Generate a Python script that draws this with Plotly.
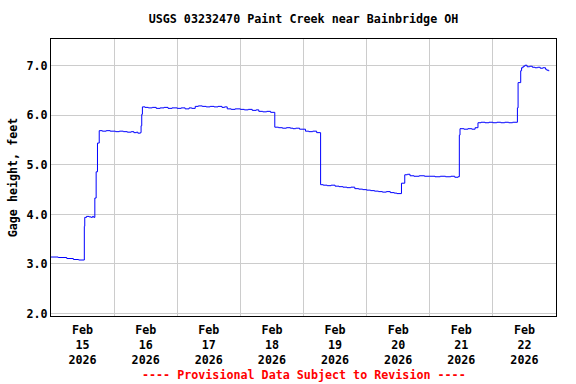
import plotly.graph_objects as go

# ---- data ----
times = [
    "2026-02-15 00:00", "2026-02-15 02:45", "2026-02-15 06:00", "2026-02-15 08:30", "2026-02-15 10:30",
    "2026-02-15 12:40", "2026-02-15 12:50", "2026-02-15 13:30", "2026-02-15 14:30", "2026-02-15 15:15",
    "2026-02-15 15:45", "2026-02-15 16:15", "2026-02-15 16:40", "2026-02-15 17:10", "2026-02-15 17:40",
    "2026-02-15 18:20", "2026-02-15 19:30", "2026-02-15 21:00", "2026-02-15 22:30",
    "2026-02-16 00:30", "2026-02-16 02:00", "2026-02-16 03:30", "2026-02-16 05:00", "2026-02-16 06:30",
    "2026-02-16 07:30", "2026-02-16 08:30", "2026-02-16 09:00", "2026-02-16 10:00", "2026-02-16 10:15",
    "2026-02-16 10:30", "2026-02-16 10:45", "2026-02-16 11:45", "2026-02-16 13:00", "2026-02-16 14:30",
    "2026-02-16 16:00", "2026-02-16 17:30", "2026-02-16 19:00", "2026-02-16 20:30", "2026-02-16 22:00",
    "2026-02-17 00:00", "2026-02-17 01:30", "2026-02-17 03:00", "2026-02-17 04:30", "2026-02-17 05:30",
    "2026-02-17 06:50", "2026-02-17 08:00", "2026-02-17 09:30", "2026-02-17 11:00", "2026-02-17 12:30",
    "2026-02-17 14:00", "2026-02-17 15:30", "2026-02-17 17:00", "2026-02-17 18:00", "2026-02-17 19:00",
    "2026-02-17 20:30", "2026-02-17 22:00",
    "2026-02-18 00:00", "2026-02-18 01:30", "2026-02-18 03:00", "2026-02-18 04:30", "2026-02-18 06:00",
    "2026-02-18 07:00", "2026-02-18 08:30", "2026-02-18 10:00", "2026-02-18 11:30", "2026-02-18 13:05",
    "2026-02-18 14:30", "2026-02-18 16:00", "2026-02-18 17:30", "2026-02-18 19:00", "2026-02-18 20:00",
    "2026-02-18 21:00", "2026-02-18 22:30",
    "2026-02-19 00:45", "2026-02-19 02:00", "2026-02-19 03:30", "2026-02-19 05:00", "2026-02-19 06:30",
    "2026-02-19 07:30", "2026-02-19 09:00", "2026-02-19 10:30", "2026-02-19 12:00", "2026-02-19 13:30",
    "2026-02-19 15:00", "2026-02-19 16:30", "2026-02-19 18:00", "2026-02-19 19:30", "2026-02-19 21:00",
    "2026-02-19 22:30",
    "2026-02-20 00:00", "2026-02-20 01:30", "2026-02-20 03:00", "2026-02-20 04:30", "2026-02-20 06:00",
    "2026-02-20 07:30", "2026-02-20 09:00", "2026-02-20 10:30", "2026-02-20 11:30", "2026-02-20 13:15",
    "2026-02-20 14:30", "2026-02-20 15:30", "2026-02-20 16:30", "2026-02-20 18:00", "2026-02-20 20:00",
    "2026-02-20 22:00",
    "2026-02-21 00:00", "2026-02-21 02:00", "2026-02-21 04:00", "2026-02-21 06:00", "2026-02-21 08:00",
    "2026-02-21 09:30", "2026-02-21 10:45", "2026-02-21 11:15", "2026-02-21 11:30", "2026-02-21 13:00",
    "2026-02-21 14:30", "2026-02-21 16:00", "2026-02-21 17:15", "2026-02-21 18:20", "2026-02-21 19:30",
    "2026-02-21 21:00", "2026-02-21 22:30",
    "2026-02-22 00:00", "2026-02-22 01:30", "2026-02-22 03:00", "2026-02-22 04:30", "2026-02-22 06:00",
    "2026-02-22 07:30", "2026-02-22 09:20", "2026-02-22 09:35", "2026-02-22 10:35", "2026-02-22 10:55",
    "2026-02-22 11:30", "2026-02-22 12:10", "2026-02-22 13:00", "2026-02-22 14:00", "2026-02-22 15:00",
    "2026-02-22 16:00", "2026-02-22 17:00", "2026-02-22 18:00", "2026-02-22 19:00", "2026-02-22 20:00",
    "2026-02-22 20:30", "2026-02-22 21:15",
]
gage_height = [
    3.14, 3.13, 3.11, 3.09, 3.08,
    3.76, 3.94, 3.96, 3.95, 3.94,
    3.96, 3.94, 4.33, 4.86, 5.44,
    5.69, 5.68, 5.69, 5.68,
    5.67, 5.68, 5.67, 5.66, 5.67,
    5.65, 5.66, 5.64, 5.65, 5.79,
    6.02, 6.17, 6.16, 6.15, 6.16,
    6.14, 6.15, 6.16, 6.14, 6.15,
    6.14, 6.15, 6.13, 6.15, 6.14,
    6.18, 6.19, 6.18, 6.17, 6.18,
    6.17, 6.18, 6.16, 6.17, 6.13,
    6.12, 6.13,
    6.12, 6.11, 6.12, 6.10, 6.11,
    6.08, 6.07, 6.08, 6.06, 5.76,
    5.75, 5.74, 5.75, 5.74, 5.73,
    5.74, 5.72,
    5.68, 5.67, 5.68, 5.65, 4.60,
    4.59, 4.58, 4.59, 4.57, 4.56,
    4.55, 4.54, 4.55, 4.52, 4.51,
    4.50,
    4.49, 4.48, 4.47, 4.46, 4.45,
    4.46, 4.44, 4.43, 4.42, 4.63,
    4.80, 4.81, 4.78, 4.77, 4.78,
    4.77,
    4.77, 4.76, 4.77, 4.76, 4.77,
    4.75, 4.76, 5.60, 5.73, 5.72,
    5.73, 5.72, 5.75, 5.85, 5.86,
    5.85, 5.86,
    5.85, 5.86, 5.85, 5.86, 5.85,
    5.86, 6.15, 6.66, 6.90, 6.96,
    6.99, 7.01, 6.98, 6.99, 6.97,
    6.96, 6.97, 6.95, 6.96, 6.93,
    6.91, 6.89,
]

day_noons = ["2026-02-%02d 12:00" % d for d in range(15, 23)]
day_labels = ["Feb<br>%d<br>2026" % d for d in range(15, 23)]
y_ticks = [2.0, 3.0, 4.0, 5.0, 6.0, 7.0]

title_text = "USGS 03232470 Paint Creek near Bainbridge OH"
y_title = "Gage height, feet"
footer_text = "---- Provisional Data Subject to Revision ----"

MONO = "DejaVu Sans Mono"
FS = 11.7

fig = go.Figure()
fig.add_trace(go.Scatter(
    x=times, y=gage_height, mode="lines",
    line=dict(color="#0000ff", width=1, shape="hv"),
    showlegend=False, hoverinfo="skip",
))

fig.update_layout(
    width=576, height=384,
    margin=dict(l=51, r=20, t=39, b=68, pad=0, autoexpand=False),
    paper_bgcolor="white", plot_bgcolor="white",
    font=dict(family=MONO, size=FS, color="black"),
    title=dict(text="<b>%s</b>" % title_text, x=0.5, xref="paper",
               y=1 - 19 / 384, yanchor="middle", xanchor="center",
               font=dict(family=MONO, size=FS, color="black")),
    xaxis=dict(
        type="date", automargin=False,
        range=["2026-02-15 00:00", "2026-02-23 00:00"],
        tickmode="array", tickvals=day_noons,
        ticktext=["<b>%s</b>" % t for t in day_labels],
        ticks="", showgrid=False, zeroline=False, ticklabelstandoff=3,
        showline=True, linecolor="black", linewidth=1, mirror=True,
        tickfont=dict(family=MONO, size=FS, color="black"),
        minor=dict(dtick=86400000, tick0="2026-02-15", showgrid=True,
                   gridcolor="#cccccc", gridwidth=1, ticks=""),
    ),
    yaxis=dict(
        automargin=False,
        range=[1.95, 7.54],
        tickmode="array", tickvals=y_ticks,
        ticktext=["<b>%.1f</b>" % v for v in y_ticks],
        ticks="", showgrid=True, gridcolor="#cccccc", gridwidth=1,
        zeroline=False,
        showline=True, linecolor="black", linewidth=1, mirror=True,
        tickfont=dict(family=MONO, size=FS, color="black"),
        title=dict(text="<b>%s</b>" % y_title, standoff=6,
                   font=dict(family=MONO, size=FS, color="black")),
    ),
    annotations=[dict(
        text="<b>%s</b>" % footer_text, xref="paper", yref="paper",
        x=0.5, y=(316 - 375) / 277, xanchor="center", yanchor="middle",
        showarrow=False, font=dict(family=MONO, size=FS, color="#ff0000"),
    )],
)

fig.write_html("out.html",
               config={"displayModeBar": False, "staticPlot": True},
               post_script="document.body.style.margin='0';document.body.style.overflow='hidden';")
